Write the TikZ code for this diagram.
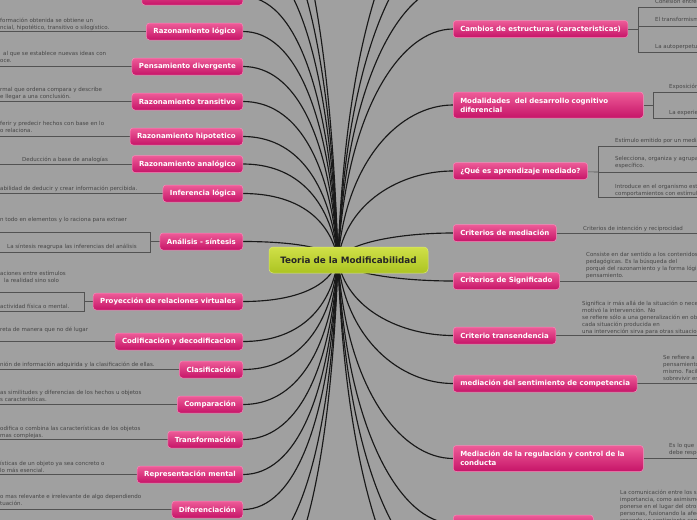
\documentclass[tikz,border=0pt]{standalone}
\usepackage{fontspec}
\setmainfont{DejaVu Sans}
\usepackage{xcolor}
\usetikzlibrary{backgrounds}
\definecolor{mapgray}{RGB}{160,160,160}
\definecolor{pinkhi}{RGB}{238,92,152}
\definecolor{pinklo}{RGB}{198,20,104}
\definecolor{pinkrim}{RGB}{246,140,186}
\definecolor{limehi}{RGB}{208,224,72}
\definecolor{limelo}{RGB}{172,196,34}
\definecolor{limerim}{RGB}{220,234,110}
\definecolor{notegray}{RGB}{70,70,70}

\begin{document}
\begin{tikzpicture}[x=1pt, y=-1pt,
  topic/.style={rectangle, rounded corners=3pt, draw=pinkrim, line width=0.5pt, top color=pinkhi, bottom color=pinklo, minimum height=17pt, inner xsep=7pt, text=white, font=\fontsize{7}{9}\selectfont\bfseries},
  root/.style={rectangle, rounded corners=4pt, draw=limerim, line width=0.5pt, top color=limehi, bottom color=limelo, minimum width=159pt, minimum height=26pt, text=black!85, font=\fontsize{8.8}{10}\selectfont\bfseries},
  link/.style={line width=1.15pt, black!90},
  twig/.style={line width=0.6pt, black!68},
  note/.style={anchor=north west, inner sep=0pt, align=left, text=notegray, font=\fontsize{5.5}{7}\selectfont}
]
\useasboundingbox (0,0) rectangle (697,520);

% central topic
\node[root] (theory) at (348.5,260) {Teoria de la Modificabilidad};
\coordinate (hub) at (338,260);
\coordinate (lft) at (-3,0);
\coordinate (rgt) at (702,0);

% left topics
\node[topic, anchor=east, minimum width=101pt] (n0) at (243,-3.5) {};
\node[topic, anchor=east] (rl) at (243,31.5) {Razonamiento lógico};
\node[topic, anchor=east] (pd) at (243,66.5) {Pensamiento divergente};
\node[topic, anchor=east] (rt) at (243,101.5) {Razonamiento transitivo};
\node[topic, anchor=east] (rh) at (243,136.5) {Razonamiento hipotetico};
\node[topic, anchor=east] (ra) at (243,164) {Razonamiento analógico};
\node[topic, anchor=east] (il) at (243,193.5) {Inferencia lógica};
\node[topic, anchor=east] (as) at (243,241.5) {Análisis - síntesis};
\node[topic, anchor=east] (pr) at (243,301.5) {Proyección de relaciones virtuales};
\node[topic, anchor=east] (cd) at (243,341.5) {Codificación y decodificacion};
\node[topic, anchor=east] (cl) at (243,369.5) {Clasificación};
\node[topic, anchor=east] (cp) at (243,404.5) {Comparación};
\node[topic, anchor=east] (tr) at (243,439.5) {Transformación};
\node[topic, anchor=east] (rm) at (243,474.5) {Representación mental};
\node[topic, anchor=east] (df) at (243,509.5) {Diferenciación};

% right topics
\node[topic, anchor=west] (cb) at (453,29) {Cambios de estructuras (caracteristicas)};
\node[topic, anchor=west, text width=176pt, align=left, minimum height=26pt] (md) at (453,105) {Modalidades\ \ del desarrollo cognitivo\\diferencial};
\node[topic, anchor=west] (qa) at (453,171) {¿Qué es aprendizaje mediado?};
\node[topic, anchor=west] (cm) at (453,233) {Criterios de mediación};
\node[topic, anchor=west] (cs) at (453,281) {Criterios de Significado};
\node[topic, anchor=west] (ct) at (453,335.5) {Criterio transendencia};
\node[topic, anchor=west] (mc) at (453,383.5) {mediación del sentimiento de competencia};
\node[topic, anchor=west, text width=176pt, align=left, minimum height=26pt] (mr) at (453,458.5) {Mediación de la regulación y control de la\\conducta};
\node[topic, anchor=west, minimum width=140pt] (nb) at (453,523.5) {};

% left notes
\node[note] (rlt) at (0,17.5) {formación obtenida se obtiene un\\ncial, hipotético, transitivo o silogístico.};
\node[note] (pdt) at (0,51.5) {\hspace*{3pt}al que se establece nuevas ideas con\\oce.};
\node[note] (rtt) at (0,87.5) {rmal que ordena compara y describe\\e llegar a una conclusión.};
\node[note] (rht) at (0,121.5) {ferir y predecir hechos con base en lo\\o relaciona.};
\node[note] (rat) at (22,156.5) {Deducción a base de analogías};
\node[note] (ilt) at (0,185.5) {abilidad de deducir y crear información percibida.};
\node[note] (ast1) at (0,217.5) {n todo en elementos y lo raciona para extraer};
\node[note] (ast2) at (7,243.5) {La síntesis reagrupa las inferencias del análisis};
\node[note] (prt1) at (0,270.5) {aciones entre estímulos\\\hspace*{4pt}la realidad sino solo};
\node[note] (prt2) at (0,303.5) {actividad física o mental.};
\node[note] (cdt) at (0,326.5) {reta de manera que no dé lugar};
\node[note] (clt) at (0,361.5) {nión de información adquirida y la clasificación de ellas.};
\node[note] (cpt) at (0,390.5) {as similitudes y diferencias de los hechos u objetos\\s características.};
\node[note] (trt) at (0,425.5) {odifica o combina las características de los objetos\\mas complejas.};
\node[note] (rmt) at (0,460.5) {ísticas de un objeto ya sea concreto o\\lo más esencial.};
\node[note] (dft) at (0,494.5) {o mas relevante e irrelevante de algo dependiendo\\tuación.};

% right notes
\node[note] (cbt1) at (655,-1.5) {Cohesión entre};
\node[note] (cbt2) at (655,17.5) {El transformismo};
\node[note] (cbt3) at (655,43.5) {La autoperpetuación};
\node[note] (mdt1) at (669,83.5) {Exposición};
\node[note] (mdt2) at (669,110.5) {La experiencia};
\node[note] (qat1) at (615,137.5) {Estímulo emitido por un mediador};
\node[note] (qat2) at (615,156.5) {Selecciona, organiza y agrupa\\específico.};
\node[note] (qat3) at (615,183.5) {Introduce en el organismo estímulos\\comportamientos con estímulos};
\node[note] (cmt) at (583,225.5) {Criterios de intención y reciprocidad};
\node[note] (cst) at (586,252.5) {Consiste en dar sentido a los contenidos\\pedagógicas. Es la búsqueda del\\porqué del razonamiento y la forma lógica\\pensamiento.};
\node[note] (ctt) at (582,300.5) {Significa ir más allá de la situación o necesidad\\motivó la intervención. No\\se refiere sólo a una generalización en objetivos\\cada situación producida en\\una intervención sirva para otras situaciones};
\node[note] (mct) at (663,355.5) {Se refiere a\\pensamiento\\mismo. Facilita\\sobrevivir en};
\node[note] (mrt) at (669,443.5) {Es lo que\\debe responder};
\node[note] (nbt) at (620,489.5) {La comunicación entre los sujetos\\importancia, como asimismo\\ponerse en el lugar del otro\\personas, fusionando la afectividad\\creando un sentimiento común};

\begin{pgfonlayer}{background}
\fill[mapgray] (0,0) rectangle (697,520);

% curves from the centre
\foreach \n/\y in {n0/-3.5, rl/31.5, pd/66.5, rt/101.5, rh/136.5, ra/164, il/193.5, as/241.5, pr/301.5, cd/341.5, cl/369.5, cp/404.5, tr/439.5, rm/474.5, df/509.5}
  \draw[link] (hub) .. controls +(-8,{(\y-260)*0.65}) and +(52,0) .. (\n.east);
\foreach \n/\y in {cb/29, md/105, qa/171, cm/233, cs/281, ct/335.5, mc/383.5, mr/458.5, nb/523.5}
  \draw[link] (hub) .. controls +(8,{(\y-260)*0.65}) and +(-52,0) .. (\n.west);
\foreach \c/\y in {h1/-45, h2/-90, h3/-140, h7/560, h8/610} {
  \coordinate (\c) at (243,\y);
  \draw[link] (hub) .. controls +(-8,{(\y-260)*0.65}) and +(52,0) .. (\c);
}
\foreach \c/\y in {h4/-15, h5/-60, h6/-110, h9/575, h10/625} {
  \coordinate (\c) at (453,\y);
  \draw[link] (hub) .. controls +(8,{(\y-260)*0.65}) and +(-52,0) .. (\c);
}

% branches to the notes
\foreach \n in {rl, pd, rt, rh, ra, il, cd, cl, cp, tr, rm, df}
  \draw[twig] (\n) -- (\n -| lft);
\foreach \n in {cm, cs, ct, mc, mr, nb}
  \draw[twig] (\n) -- (\n -| rgt);
\draw[twig] (as) -- (150,241.5);
\draw[twig] (-3,232) -- (150,232) -- (150,252) -- (-3,252);
\draw[twig] (pr) -- (84,301.5);
\draw[twig] (-3,292) -- (84,292) -- (84,311) -- (-3,311);
\draw[twig] (cb) -- (638,29);
\draw[twig] (702,7) -- (638,7) -- (638,52) -- (702,52) (638,26) -- (702,26);
\draw[twig] (md) -- (653,105);
\draw[twig] (702,92) -- (653,92) -- (653,118) -- (702,118);
\draw[twig] (qa) -- (598,172);
\draw[twig] (702,146) -- (598,146) -- (598,197) -- (702,197) (598,172) -- (702,172);
\end{pgfonlayer}
\end{tikzpicture}
\end{document}
